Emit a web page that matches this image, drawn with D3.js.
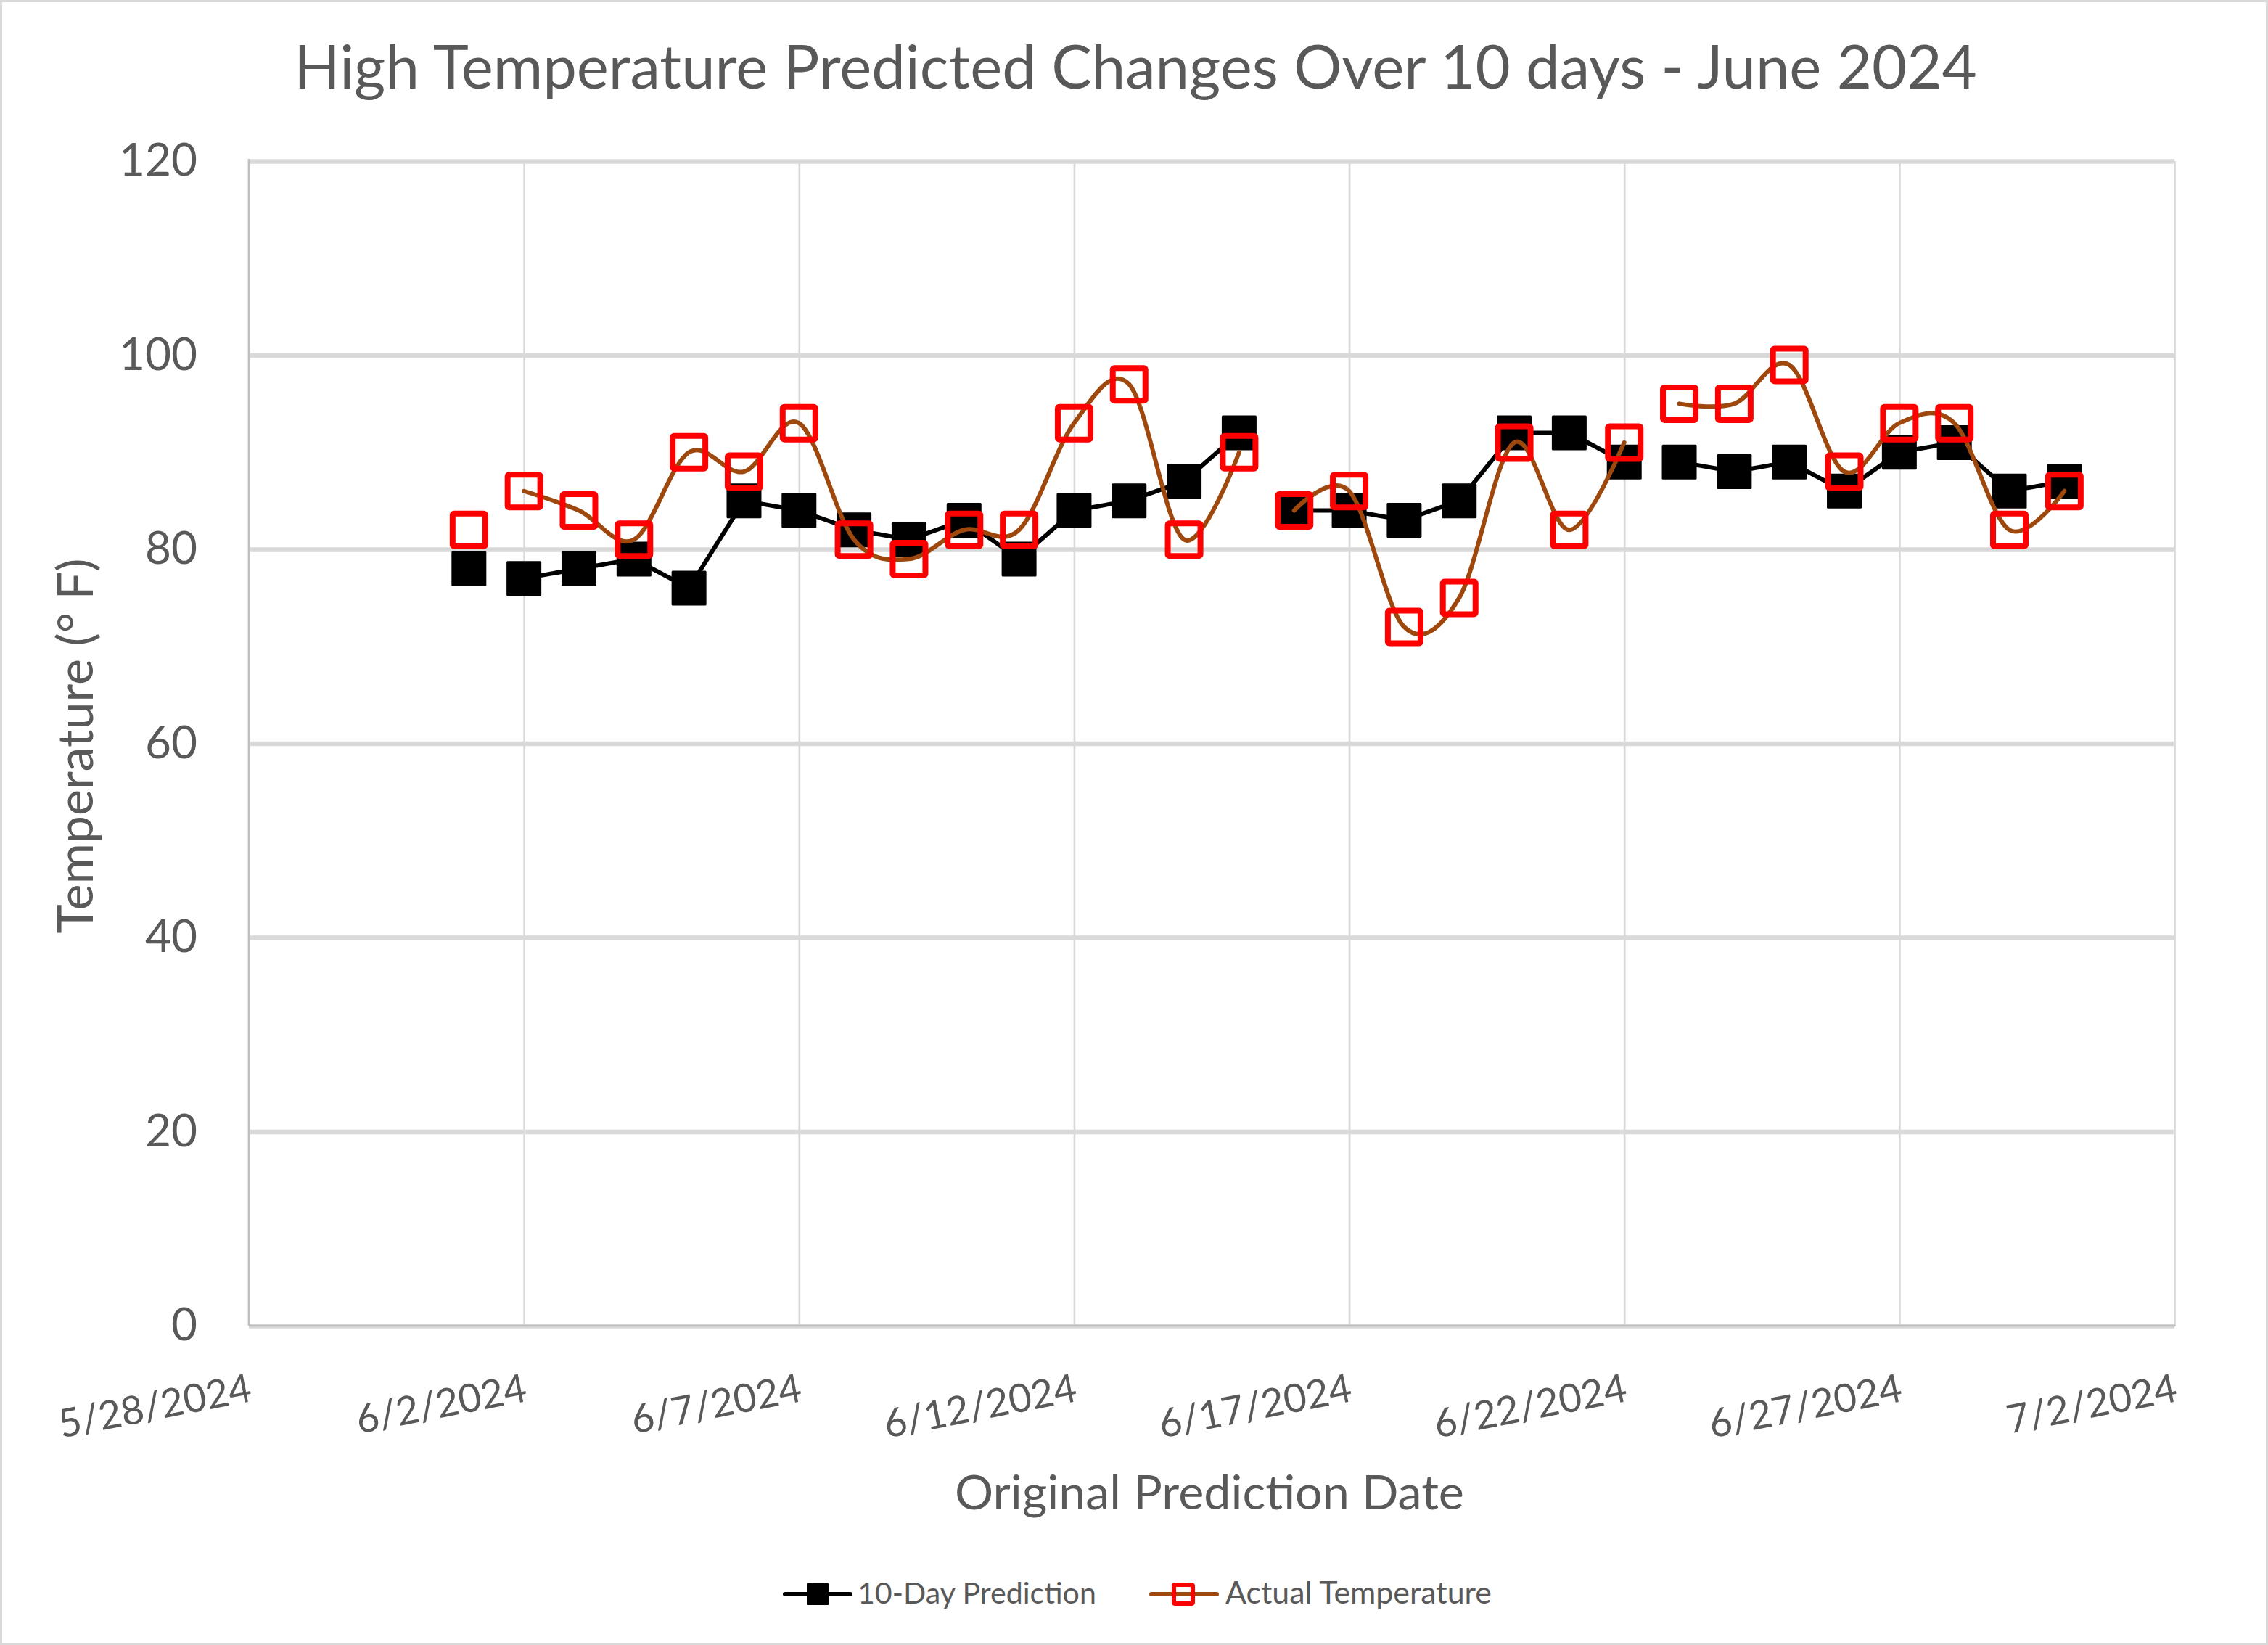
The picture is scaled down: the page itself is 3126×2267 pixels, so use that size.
<!DOCTYPE html>
<html>
<head>
<meta charset="utf-8">
<script src="https://cdn.jsdelivr.net/npm/d3@7"></script>
<style>
  body { margin: 0; background: #fff; }
  text { font-family: Lato, "Open Sans", sans-serif; fill: #595959; }
</style>
</head>
<body>
<svg id="chart"></svg>
<script>
// ---------------- DATA ----------------
var dates = ["6/1/2024","6/2/2024","6/3/2024","6/4/2024","6/5/2024","6/6/2024","6/7/2024","6/8/2024","6/9/2024","6/10/2024",
             "6/11/2024","6/12/2024","6/13/2024","6/14/2024","6/15/2024","6/16/2024","6/17/2024","6/18/2024","6/19/2024","6/20/2024",
             "6/21/2024","6/22/2024","6/23/2024","6/24/2024","6/25/2024","6/26/2024","6/27/2024","6/28/2024","6/29/2024","6/30/2024"];
var prediction = [78,77,78,79,76,85,84,82,81,83, 79,84,85,87,92,84,84,83,85,92, 92,89,89,88,89,86,90,91,86,87];
var actual     = [82,86,84,81,90,88,93,81,79,82, 82,93,97,81,90,84,86,72,75,91, 82,91,95,95,99,88,93,93,82,86];
// lines are broken where a new run of dates starts
var segmentStarts = ["6/1/2024","6/2/2024","6/16/2024","6/23/2024"];

var xTicks = ["5/28/2024","6/2/2024","6/7/2024","6/12/2024","6/17/2024","6/22/2024","6/27/2024","7/2/2024"];
var yTicks = [0,20,40,60,80,100,120];
var seriesNames = ["10-Day Prediction","Actual Temperature"];

var titleText = "High Temperature Predicted Changes Over 10 days - June 2024";
var xTitle = "Original Prediction Date";
var yTitle = "Temperature (° F)";

// ---------------- SETUP ----------------
var W = 3126, H = 2267;
var plot = {left: 343, right: 2997, top: 222, bottom: 1827};
var parse = d3.timeParse("%m/%d/%Y");
var fmt = d3.timeFormat("%-m/%-d/%Y");

var svg = d3.select("#chart").attr("width", W).attr("height", H);

svg.append("rect").attr("x",1.5).attr("y",1.5).attr("width",W-3).attr("height",H-3)
   .attr("fill","#fff").attr("stroke","#d9d9d9").attr("stroke-width",3);

// scale a text's font so it has the wanted width
function fitWidth(sel, target){
  var fs = parseFloat(sel.style("font-size"));
  var w = sel.node().getComputedTextLength();
  var nf = fs * target / w;
  sel.style("font-size", nf + "px");
  return nf;
}

var x = d3.scaleTime().domain([parse(xTicks[0]), parse(xTicks[xTicks.length-1])]).range([plot.left, plot.right]);
var y = d3.scaleLinear().domain([0,120]).range([plot.bottom, plot.top]);

// ---------------- GRID ----------------
var xGrid = svg.append("g").attr("transform", `translate(0,${plot.bottom})`)
  .call(d3.axisBottom(x).tickValues(xTicks.map(parse)).tickSize(-(plot.bottom-plot.top)).tickFormat(""));
xGrid.select(".domain").remove();
xGrid.selectAll("line").attr("stroke","#d9d9d9").attr("stroke-width",2.7);

var yGrid = svg.append("g").attr("transform", `translate(${plot.left},0)`)
  .call(d3.axisLeft(y).tickValues(yTicks).tickSize(-(plot.right-plot.left)).tickFormat(""));
yGrid.select(".domain").remove();
yGrid.selectAll("line").attr("stroke","#d9d9d9").attr("stroke-width",6.5);

// axis lines
svg.append("line").attr("x1",plot.left).attr("x2",plot.right+1.5).attr("y1",plot.bottom).attr("y2",plot.bottom)
   .attr("stroke","#bfbfbf").attr("stroke-width",2.7);
svg.append("line").attr("x1",plot.left).attr("x2",plot.left).attr("y1",plot.top-3).attr("y2",plot.bottom)
   .attr("stroke","#bfbfbf").attr("stroke-width",2.7);

// ---------------- TICK LABELS ----------------
var yAxis = svg.append("g").attr("transform", `translate(${plot.left},0)`)
  .call(d3.axisLeft(y).tickValues(yTicks).tickSize(0).tickPadding(71));
yAxis.select(".domain").remove();
yAxis.attr("font-family", null).attr("font-size", null);
var yLab = yAxis.selectAll("text").attr("fill","#595959").style("font-size","60px");
var yFs = fitWidth(yAxis.selectAll("text").filter(d => d === 120), 108);
yLab.style("font-size", yFs + "px");

var xAxis = svg.append("g").attr("transform", `translate(0,${plot.bottom})`)
  .call(d3.axisBottom(x).tickValues(xTicks.map(parse)).tickSize(0).tickFormat(fmt));
xAxis.select(".domain").remove();
xAxis.attr("font-family", null).attr("font-size", null);
var xLab = xAxis.selectAll("text").attr("fill","#595959").style("font-size","60px")
  .attr("y",0).attr("dy","0.74em").attr("text-anchor","end")
  .attr("transform","translate(-2,64) rotate(-11)");
var xFs = fitWidth(xAxis.selectAll("text").filter(d => fmt(d) === "7/2/2024"), 238);
xLab.style("font-size", xFs + "px");

// ---------------- TITLES ----------------
var t = svg.append("text").attr("x",1565).attr("y",122).attr("text-anchor","middle")
  .style("font-size","80px").text(titleText);
fitWidth(t, 2320);

var xt = svg.append("text").attr("x",1667).attr("y",2080).attr("text-anchor","middle")
  .style("font-size","60px").text(xTitle);
fitWidth(xt, 702);

var yt = svg.append("text").attr("transform","translate(128,1028) rotate(-90)").attr("text-anchor","middle")
  .style("font-size","60px").text(yTitle);
fitWidth(yt, 517);

// ---------------- SERIES ----------------
var rows = dates.map((d,i) => ({date: parse(d), pred: prediction[i], act: actual[i]}));
var segments = [];
rows.forEach((r,i) => {
  if (!segments.length || segmentStarts.indexOf(dates[i]) >= 0) segments.push([]);
  segments[segments.length-1].push(r);
});
var runs = segments.filter(s => s.length > 1);

var predLine = d3.line().x(d => x(d.date)).y(d => y(d.pred));
var actLine = d3.line().x(d => x(d.date)).y(d => y(d.act)).curve(d3.curveCatmullRom.alpha(0));

svg.append("g").selectAll("path").data(runs).enter().append("path")
  .attr("d", predLine).attr("fill","none").attr("stroke","#000").attr("stroke-width",6)
  .attr("stroke-linejoin","round").attr("stroke-linecap","round");

var ms = 48;
svg.append("g").selectAll("rect").data(rows).enter().append("rect")
  .attr("x", d => x(d.date) - ms/2).attr("y", d => y(d.pred) - ms/2)
  .attr("width", ms).attr("height", ms).attr("rx",1.5).attr("fill","#000");

svg.append("g").selectAll("path").data(runs).enter().append("path")
  .attr("d", actLine).attr("fill","none").attr("stroke","#9E480E").attr("stroke-width",6)
  .attr("stroke-linecap","round");

var rs = 45;
svg.append("g").selectAll("rect").data(rows).enter().append("rect")
  .attr("x", d => x(d.date) - rs/2).attr("y", d => y(d.act) - rs/2)
  .attr("width", rs).attr("height", rs).attr("rx",2)
  .attr("fill","none").attr("stroke","#FF0000").attr("stroke-width",8);

// ---------------- LEGEND ----------------
var ly = 2197;
var legend = svg.append("g");
// 10-Day Prediction
legend.append("line").attr("x1",1082).attr("x2",1172).attr("y1",ly).attr("y2",ly)
  .attr("stroke","#000").attr("stroke-width",6).attr("stroke-linecap","round");
legend.append("rect").attr("x",1127-15).attr("y",ly-15).attr("width",30).attr("height",30).attr("rx",1).attr("fill","#000");
var l1 = legend.append("text").attr("x",1182).attr("y",ly+13).style("font-size","44px").text(seriesNames[0]);
fitWidth(l1, 329);
// Actual Temperature
legend.append("line").attr("x1",1587).attr("x2",1677).attr("y1",ly).attr("y2",ly)
  .attr("stroke","#9E480E").attr("stroke-width",6).attr("stroke-linecap","round");
legend.append("rect").attr("x",1631-13).attr("y",ly-13).attr("width",26).attr("height",26).attr("rx",1.5)
  .attr("fill","none").attr("stroke","#FF0000").attr("stroke-width",6);
var l2 = legend.append("text").attr("x",1689).attr("y",ly+13).style("font-size","44px").text(seriesNames[1]);
fitWidth(l2, 367);
</script>
</body>
</html>
